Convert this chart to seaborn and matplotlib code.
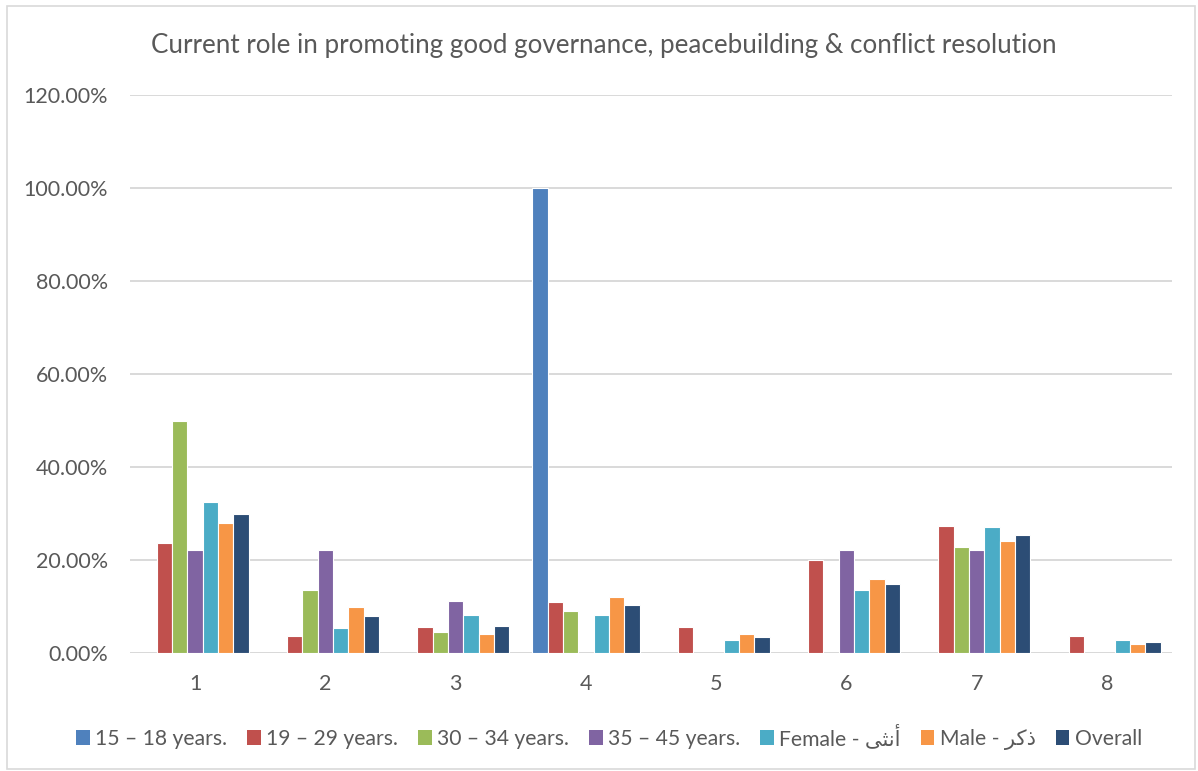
import matplotlib
matplotlib.use("Agg")
import matplotlib.pyplot as plt
import seaborn as sns
import pandas as pd
import numpy as np
from matplotlib.ticker import FuncFormatter, MultipleLocator
from matplotlib.patches import Rectangle

categories = ["1", "2", "3", "4", "5", "6", "7", "8"]
series_names = ["15 – 18 years.", "19 – 29 years.", "30 – 34 years.", "35 – 45 years.",
                "Female - أنثى", "Male - ذكر", "Overall"]
v_15_18 = [0, 0, 0, 100.0, 0, 0, 0, 0]
v_19_29 = [23.6, 3.6, 5.5, 10.9, 5.5, 20.0, 27.3, 3.6]
v_30_34 = [50.0, 13.6, 4.5, 9.1, 0, 0, 22.7, 0]
v_35_45 = [22.2, 22.2, 11.1, 0, 0, 22.2, 22.2, 0]
v_female = [32.4, 5.4, 8.1, 8.1, 2.7, 13.5, 27.0, 2.7]
v_male = [28.0, 10.0, 4.0, 12.0, 4.0, 16.0, 24.0, 2.0]
v_overall = [29.9, 8.0, 5.7, 10.3, 3.4, 14.9, 25.3, 2.3]
all_values = [v_15_18, v_19_29, v_30_34, v_35_45, v_female, v_male, v_overall]
colors = ["#4F81BD", "#C0504D", "#9BBB59", "#8064A2", "#4BACC6", "#F79646", "#2C4D75"]
title = "Current role in promoting good governance, peacebuilding & conflict resolution"

# simple Arabic shaping (presentation forms, visual order) for the legend words
_forms = {
    "أ": {"iso": "\uFE83", "fin": "\uFE84", "joins_left": False},
    "ن": {"iso": "\uFEE5", "ini": "\uFEE7", "med": "\uFEE8", "fin": "\uFEE6", "joins_left": True},
    "ث": {"iso": "\uFE99", "ini": "\uFE9B", "med": "\uFE9C", "fin": "\uFE9A", "joins_left": True},
    "ى": {"iso": "\uFEEF", "fin": "\uFEF0", "joins_left": False},
    "ذ": {"iso": "\uFEAB", "fin": "\uFEAC", "joins_left": False},
    "ك": {"iso": "\uFED9", "ini": "\uFEDB", "med": "\uFEDC", "fin": "\uFEDA", "joins_left": True},
    "ر": {"iso": "\uFEAD", "fin": "\uFEAE", "joins_left": False},
}


def shape_word(word):
    out = []
    for i, ch in enumerate(word):
        f = _forms[ch]
        prev_joins = i > 0 and _forms[word[i - 1]]["joins_left"]
        next_exists = i < len(word) - 1
        if prev_joins and next_exists and f["joins_left"]:
            out.append(f["med"])
        elif prev_joins:
            out.append(f["fin"])
        elif next_exists and f["joins_left"]:
            out.append(f["ini"])
        else:
            out.append(f["iso"])
    return "".join(reversed(out))


def shape_label(s):
    parts = s.split(" ")
    return " ".join(shape_word(p) if p and all(c in _forms for c in p) else p for p in parts)


rows = []
for name, vals in zip(series_names, all_values):
    for c, v in zip(categories, vals):
        rows.append({"cat": c, "series": name, "value": v})
df = pd.DataFrame(rows)

sns.set_theme(style="white")
plt.rcParams["font.family"] = ["Lato", "DejaVu Sans"]

W, H = 1198, 771
fig = plt.figure(figsize=(W / 100, H / 100), dpi=100)
ax = fig.add_axes([130 / W, 1 - 653 / H, 1042 / W, 558 / H])

sns.barplot(data=df, x="cat", y="value", hue="series", order=categories,
            hue_order=series_names, palette=colors, width=0.8235, ax=ax,
            edgecolor="white", linewidth=0.8, errorbar=None, saturation=1)

for p in ax.patches:
    if p.get_height() == 0:
        p.set_linewidth(0)

ax.set_ylim(0, 120)
ax.set_xlim(-0.5, 7.5)
ax.yaxis.set_major_locator(MultipleLocator(20))
ax.yaxis.set_major_formatter(FuncFormatter(lambda v, _: f"{v:.2f}%"))
ax.grid(axis="y", color="#D9D9D9", linewidth=1.4)
ax.set_axisbelow(True)
for s in ax.spines.values():
    s.set_visible(False)
ax.axhline(0, color="#D9D9D9", linewidth=1.4, zorder=0.5)
ax.set_xlabel("")
ax.set_ylabel("")
ax.tick_params(axis="both", length=0, labelsize=15.5, labelcolor="#595959")
ax.tick_params(axis="y", pad=16)
ax.tick_params(axis="x", pad=15)

fig.text(604 / W, 1 - 45 / H, title, fontsize=18.7, color="#595959",
         ha="center", va="center")

handles, labels = ax.get_legend_handles_labels()
ax.legend(handles, [shape_label(l) for l in labels], loc="center",
          bbox_to_anchor=(609 / W, 1 - 737 / H), bbox_transform=fig.transFigure,
          ncol=7, frameon=False, fontsize=15.2,
          handlelength=0.65, handleheight=0.65, handletextpad=0.25, columnspacing=0.95,
          labelcolor="#595959")

fig.add_artist(Rectangle((7 / W, 2 / H), 1188 / W, 763 / H, transform=fig.transFigure,
                         fill=False, edgecolor="#D9D9D9", linewidth=1.2))
fig.savefig("out.png", dpi=100)
